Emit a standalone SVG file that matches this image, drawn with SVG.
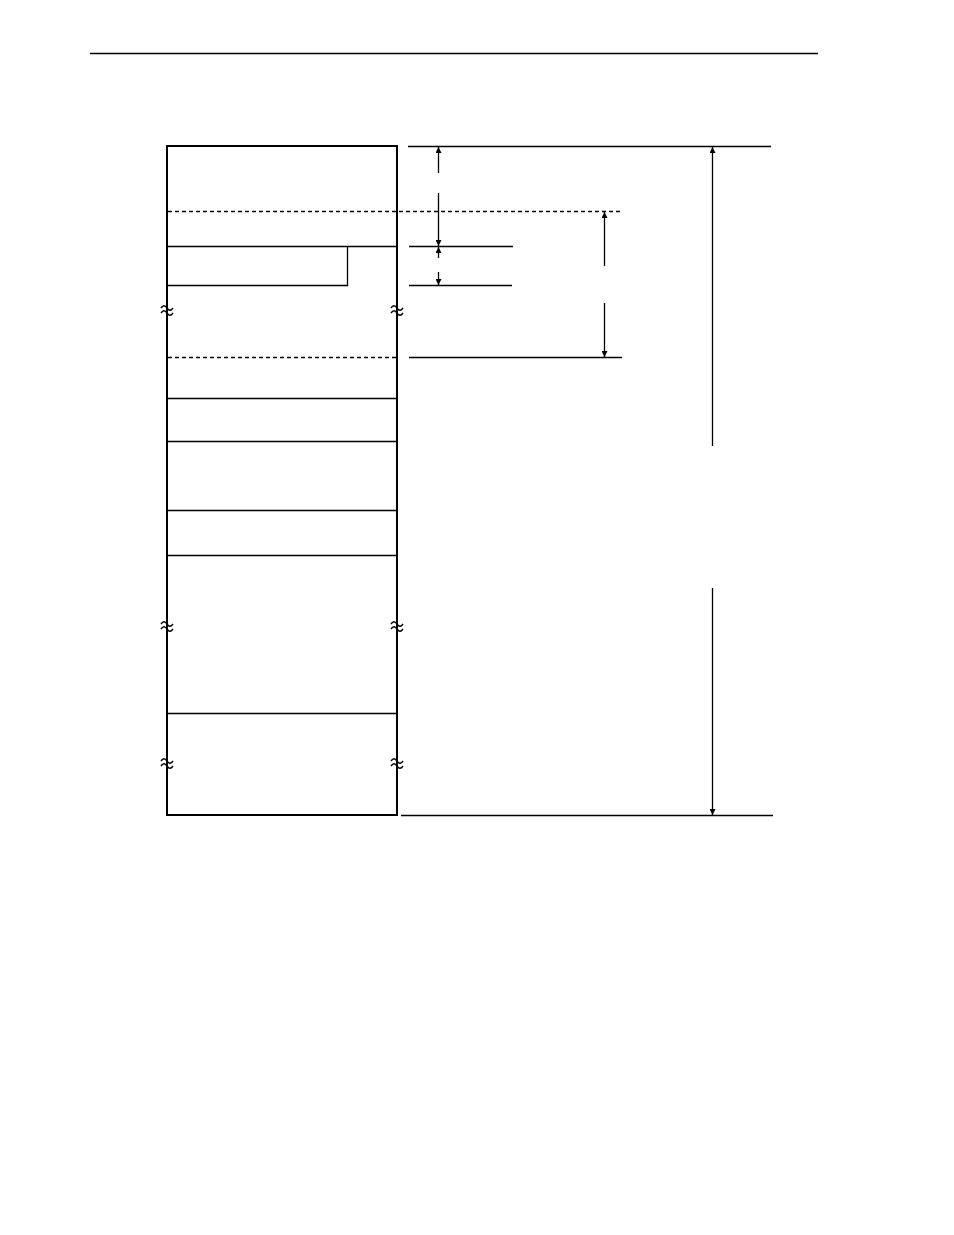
<svg xmlns="http://www.w3.org/2000/svg" width="954" height="1235" viewBox="0 0 954 1235">
<style>
.thin{stroke:#000;stroke-width:1.3;fill:none}
.thick{stroke:#000;stroke-width:2;fill:none}
.dash{stroke:#000;stroke-width:1.3;fill:none;stroke-dasharray:4,3}
.brk{stroke:#000;stroke-width:1.4;fill:none}
</style>
<defs>
<marker id="ah" viewBox="0 0 10 10" refX="10" refY="5" markerWidth="9" markerHeight="6" markerUnits="userSpaceOnUse" orient="auto">
<path d="M0,0 L10,5 L0,10 z" fill="#000"/>
</marker>
<g id="brkmark">
<rect x="-6" y="-6" width="12" height="12" fill="#fff"/>
<path class="brk" d="M-6,-2 c2,-3 4,-3 6,0 s4,3 6,0"/>
<path class="brk" d="M-6,3 c2,-3 4,-3 6,0 s4,3 6,0"/>
</g>
</defs>
<rect width="954" height="1235" fill="#fff"/>
<line class="thin" x1="90" y1="53.5" x2="818" y2="53.5"/>
<g id="memory-map">
<rect class="thick" x="167" y="146" width="230" height="669"/>
<line class="dash" x1="168" y1="211.5" x2="622" y2="211.5"/>
<line class="thin" x1="167" y1="246.5" x2="397" y2="246.5"/>
<path class="thin" d="M167,285.5 H347.5 V246.5"/>
<line class="dash" x1="168" y1="357.5" x2="396" y2="357.5"/>
<line class="thin" x1="167" y1="398.5" x2="397" y2="398.5"/>
<line class="thin" x1="167" y1="441.5" x2="397" y2="441.5"/>
<line class="thin" x1="167" y1="510.5" x2="397" y2="510.5"/>
<line class="thin" x1="167" y1="555.5" x2="397" y2="555.5"/>
<line class="thin" x1="167" y1="713.5" x2="397" y2="713.5"/>
<g id="breaks">
<use href="#brkmark" x="167" y="310"/>
<use href="#brkmark" x="397" y="310"/>
<line class="thick" x1="167" y1="304" x2="167" y2="316"/>
<line class="thick" x1="397" y1="304" x2="397" y2="316"/>
<use href="#brkmark" x="167" y="626"/>
<use href="#brkmark" x="397" y="626"/>
<line class="thick" x1="167" y1="620" x2="167" y2="632"/>
<line class="thick" x1="397" y1="620" x2="397" y2="632"/>
<use href="#brkmark" x="167" y="763"/>
<use href="#brkmark" x="397" y="763"/>
<line class="thick" x1="167" y1="757" x2="167" y2="769"/>
<line class="thick" x1="397" y1="757" x2="397" y2="769"/>
</g>
</g>
<g id="connectors">
<line class="thin" x1="408" y1="146.5" x2="771" y2="146.5"/>
<line class="thin" x1="409" y1="246.5" x2="513" y2="246.5"/>
<line class="thin" x1="409" y1="285.5" x2="512" y2="285.5"/>
<line class="thin" x1="409" y1="357.5" x2="622" y2="357.5"/>
<line class="thin" x1="401" y1="815.5" x2="773" y2="815.5"/>
<line class="thin" x1="438.5" y1="173" x2="438.5" y2="147" marker-end="url(#ah)"/>
<line class="thin" x1="438.5" y1="193" x2="438.5" y2="246" marker-end="url(#ah)"/>
<line class="thin" x1="438.5" y1="258" x2="438.5" y2="247" marker-end="url(#ah)"/>
<line class="thin" x1="438.5" y1="272" x2="438.5" y2="285" marker-end="url(#ah)"/>
<line class="thin" x1="604.5" y1="266" x2="604.5" y2="212" marker-end="url(#ah)"/>
<line class="thin" x1="604.5" y1="303" x2="604.5" y2="357" marker-end="url(#ah)"/>
<line class="thin" x1="712.5" y1="446" x2="712.5" y2="147" marker-end="url(#ah)"/>
<line class="thin" x1="712.5" y1="588" x2="712.5" y2="815" marker-end="url(#ah)"/>
</g>
</svg>
